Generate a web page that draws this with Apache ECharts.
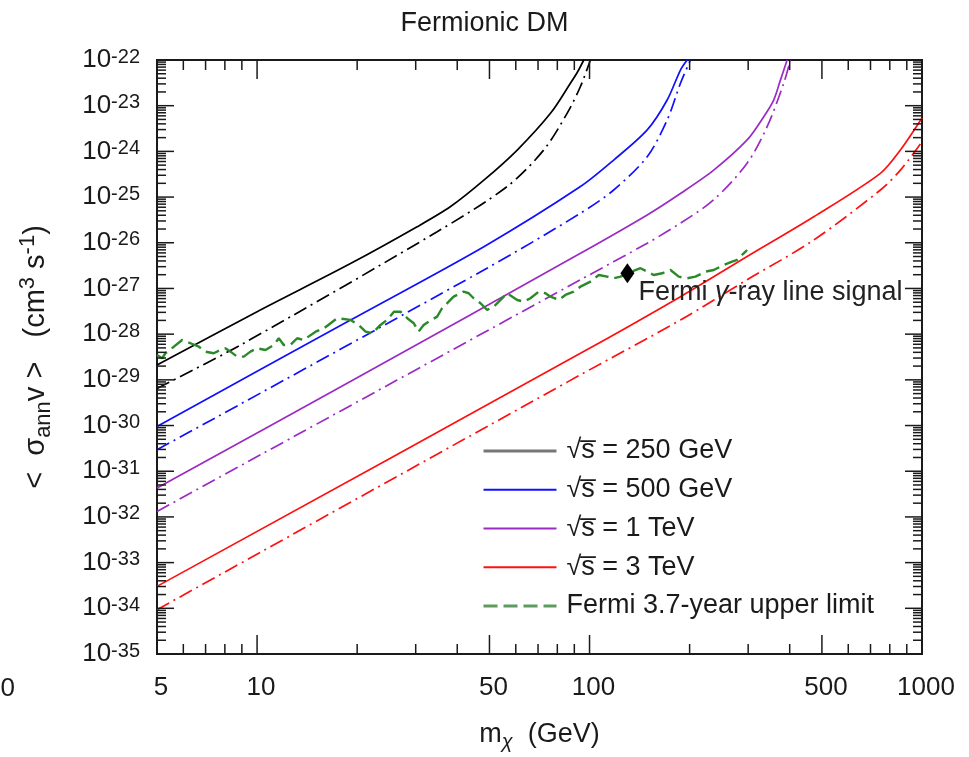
<!DOCTYPE html>
<html>
<head>
<meta charset="utf-8">
<title>Fermionic DM</title>
<script src="https://cdn.jsdelivr.net/npm/echarts@6/dist/echarts.min.js"></script>
<style>
  html, body { margin: 0; padding: 0; background: #fff; }
  #chart { width: 969px; height: 757px; }
</style>
</head>
<body>
<div id="chart"></div>
<script>
// ---- data: annihilation cross section sensitivity vs. DM mass ----
// each point: [m_chi in GeV, <sigma v> in cm^3 s^-1]
const energies = ['250 GeV', '500 GeV', '1 TeV', '3 TeV'];
const colors = ['#000000', '#1010ff', '#9b2bc4', '#ff1010'];

const solid250 = [[5, 2.1e-29], [10, 3.1e-28], [19.1, 3.5e-27], [30.3, 2.24e-26], [38.2, 6.2e-26],
  [48.1, 2.34e-25], [60.6, 1.07e-24], [76.3, 6.8e-24], [87.6, 3.1e-23], [92.0, 5.46e-23], [96.1, 1e-22]];
const dashdot250 = [[5, 6.5e-30], [8.9, 5.75e-29], [34.8, 1.74e-26], [56.5, 1.7e-25], [72.8, 1.07e-24],
  [85.6, 6.8e-24], [93.9, 2.63e-23], [100.6, 1e-22]];

const solid500 = [[5, 9.55e-31], [19.1, 2.04e-28], [48.1, 8.22e-27], [93.9, 1.7e-25], [118.2, 6.46e-25],
  [149.1, 2.95e-24], [171.2, 1.33e-23], [187.7, 6.03e-23], [196.6, 1e-22]];
const dashdot500 = [[5, 2.95e-31], [48.1, 2.54e-27], [93.9, 4.42e-26], [118.2, 1.43e-25], [149.1, 7.66e-25],
  [171.2, 4.86e-24], [187.7, 3.09e-23], [201.1, 1e-22]];

const solid1000 = [[5, 4.27e-32], [19.5, 1e-29], [93.9, 5.89e-27], [149.1, 4.07e-26], [187.7, 1.2e-25],
  [236.3, 3.89e-25], [297.8, 1.78e-24], [334.2, 5.75e-24], [358, 1.33e-23], [375.1, 3.63e-23], [392.9, 1e-22]];
const dashdot1000 = [[5, 1.32e-32], [93.9, 1.55e-27], [149.1, 9.77e-27], [187.7, 2.69e-26], [236.3, 8.71e-26],
  [297.8, 5.5e-25], [342.1, 3.47e-24], [383.8, 3.09e-23], [402, 1e-22]];

const solid3000 = [[5, 3.02e-34], [93.9, 3.8e-29], [187.7, 6.61e-28], [297.8, 5.01e-27], [472.5, 3.72e-26],
  [749.7, 3.31e-25], [861, 1.07e-24], [1000, 5.37e-24]];
const dashdot3000 = [[5, 9.33e-35], [93.9, 1.29e-29], [187.7, 2.04e-28], [297.8, 1.55e-27], [472.5, 1.15e-26],
  [749.7, 1.43e-25], [861, 3.89e-25], [1000, 1.62e-24]];

// Fermi-LAT 3.7-year gamma-ray line upper limit
const fermiLimit = [
  [5, 3.5e-29], [5.18, 2.97e-29], [5.3, 3.82e-29], [5.62, 5.32e-29], [5.95, 7.46e-29], [6.31, 6.32e-29],
  [6.68, 5.32e-29], [6.99, 4.14e-29], [7.41, 3.82e-29], [7.76, 4.51e-29], [8.03, 4.91e-29], [8.32, 4.14e-29],
  [8.71, 3.22e-29], [9.12, 3.22e-29], [9.55, 4.14e-29], [10.0, 4.91e-29], [10.6, 4.51e-29], [11.23, 5.81e-29],
  [11.62, 8.13e-29], [12.03, 5.81e-29], [12.6, 5.81e-29], [13.2, 8.13e-29], [13.8, 7.46e-29], [15.0, 1.135e-28],
  [15.9, 1.346e-28], [17.4, 2.23e-28], [19.1, 2.05e-28], [20.2, 1.59e-28], [21.2, 1.135e-28], [22.2, 1.047e-28],
  [23.5, 1.59e-28], [24.6, 2.05e-28], [25.8, 3.1e-28], [27.0, 3.1e-28], [28.3, 2.23e-28], [29.6, 1.73e-28],
  [30.6, 1.135e-28], [31.7, 1.59e-28], [32.8, 1.88e-28], [34.8, 2.42e-28], [36.0, 3.69e-28], [37.7, 5.14e-28],
  [39.0, 6.62e-28], [41.8, 8.51e-28], [43.3, 7.85e-28], [44.8, 6.11e-28], [47.0, 4.74e-28], [49.2, 3.39e-28],
  [51.5, 4.0e-28], [54.0, 5.6e-28], [56.5, 7.85e-28], [60.6, 5.6e-28], [63.4, 5.14e-28], [66.4, 6.11e-28],
  [70.3, 8.51e-28], [73.7, 7.85e-28], [76.3, 6.62e-28], [80.8, 5.6e-28], [84.6, 7.21e-28], [89.6, 8.51e-28],
  [93.9, 1.094e-27], [100.6, 1.41e-27], [106.6, 1.97e-27], [113.0, 1.81e-27], [118.2, 1.67e-27], [123.9, 1.81e-27],
  [132.7, 2.3e-27], [142.3, 2.77e-27], [149.1, 2.33e-27], [156.0, 1.97e-27], [165.4, 2.15e-27], [175.2, 2.54e-27],
  [185.5, 1.81e-27], [196.6, 1.67e-27], [208.2, 1.81e-27], [223.1, 2.33e-27], [236.3, 2.54e-27], [253.3, 3.27e-27],
  [268.4, 3.86e-27], [277.9, 4.21e-27], [290.9, 5.89e-27], [297.8, 6.95e-27]
];

// 130 GeV line signal
const lineSignal = [[130, 2.15e-27]];

// axis ranges, ticks and labels
const xRange = [5, 1000];
const yRange = [1e-35, 1e-22];
const xTickLabels = [5, 10, 50, 100, 500, 1000];
const xMajorTicks = [5, 10, 50, 100, 500, 1000];
const yDecades = [-35, -34, -33, -32, -31, -30, -29, -28, -27, -26, -25, -24, -23, -22];

// ---- derived tick positions ----
const xMinorTicks = [];
[1, 10, 100].forEach(function (d) {
  for (let k = 2; k <= 9; k++) {
    const v = k * d;
    if (v > 5 && v < 1000 && v !== 50 && v !== 500) xMinorTicks.push(v);
  }
});
const yMajorTicks = yDecades.map(function (e) { return Math.pow(10, e); });
const yMinorTicks = [];
yDecades.slice(0, -1).forEach(function (e) {
  for (let k = 2; k <= 9; k++) yMinorTicks.push(k * Math.pow(10, e));
});

const FONT = '"Liberation Sans", Arial, Helvetica, sans-serif';
const INK = '#1a1a1a';
const legendNames = energies.map(function (e) { return '\u221As\u0305 = ' + e; });
const fermiName = 'Fermi 3.7-year upper limit';

// tick rows: [x, y, side(0 = x ticks, 1 = y ticks), length]
const tickRows = []
  .concat(xMajorTicks.map(function (v) { return [v, yRange[0], 0, 19]; }))
  .concat(xMinorTicks.map(function (v) { return [v, yRange[0], 0, 10]; }))
  .concat(yMajorTicks.map(function (v) { return [xRange[0], v, 1, 17]; }))
  .concat(yMinorTicks.map(function (v) { return [xRange[0], v, 1, 9]; }));

function renderTick(params, api) {
  const side = api.value(2);
  const len = api.value(3);
  const style = { stroke: INK, lineWidth: 1.5 };
  if (side === 0) {
    const m = api.value(0);
    const b = api.coord([m, yRange[0]]);
    const t = api.coord([m, yRange[1]]);
    return { type: 'group', children: [
      { type: 'line', shape: { x1: b[0], y1: b[1], x2: b[0], y2: b[1] - len }, style: style },
      { type: 'line', shape: { x1: t[0], y1: t[1], x2: t[0], y2: t[1] + len }, style: style }
    ] };
  }
  const v = api.value(1);
  const l = api.coord([xRange[0], v]);
  const r = api.coord([xRange[1], v]);
  return { type: 'group', children: [
    { type: 'line', shape: { x1: l[0], y1: l[1], x2: l[0] + len, y2: l[1] }, style: style },
    { type: 'line', shape: { x1: r[0], y1: r[1], x2: r[0] - len, y2: r[1] }, style: style }
  ] };
}

// y tick labels: 10^n
const yLabelRows = yMajorTicks.map(function (v) { return [xRange[0], v]; });
function renderYLabel(params, api) {
  const v = api.value(1);
  const p = api.coord([xRange[0], v]);
  const exp = Math.round(Math.log10(v));
  return {
    type: 'text', x: p[0] - 17, y: p[1],
    style: {
      text: '{b|10}{s|' + exp + '}',
      align: 'right', verticalAlign: 'middle',
      rich: {
        b: { fontSize: 26, fontFamily: FONT, fill: INK, lineHeight: 26, verticalAlign: 'bottom' },
        s: { fontSize: 20, fontFamily: FONT, fill: INK, lineHeight: 20, verticalAlign: 'top', padding: [0, 0, 12, 0] }
      }
    }
  };
}

const dashDot = [14, 5, 2, 5];
const solidSets = [solid250, solid500, solid1000, solid3000];
const dashSets = [dashdot250, dashdot500, dashdot1000, dashdot3000];

const series = [];
solidSets.forEach(function (d, i) {
  series.push({
    name: legendNames[i], type: 'line', data: d,
    showSymbol: false, symbol: 'none', smooth: 0.3,
    lineStyle: { color: colors[i], width: 1.7 }, itemStyle: { color: colors[i] }, z: 3
  });
});
dashSets.forEach(function (d, i) {
  series.push({
    name: 'dashdot ' + energies[i], type: 'line', data: d,
    showSymbol: false, symbol: 'none', smooth: 0.3,
    lineStyle: { color: colors[i], width: 1.7, type: dashDot }, itemStyle: { color: colors[i] }, z: 3
  });
});
series.push({
  name: fermiName, type: 'line', data: fermiLimit,
  showSymbol: false, symbol: 'none',
  lineStyle: { color: '#2a8a2a', width: 2.4, type: [14, 6] }, itemStyle: { color: '#2a8a2a' }, z: 4
});
series.push({
  name: 'line signal', type: 'scatter', data: lineSignal,
  symbol: 'diamond', symbolSize: [14, 20], itemStyle: { color: '#000', opacity: 1 }, z: 6,
  label: {
    show: true, position: 'right', distance: 4, offset: [0, 19], color: '#222', opacity: 1,
    formatter: '{t|Fermi }{g|\u03B3}{t|-ray line signal}',
    rich: {
      t: { fontSize: 27, fontFamily: FONT, color: '#222' },
      g: { fontSize: 27, fontFamily: FONT, color: '#222', fontStyle: 'italic' }
    }
  }
});
series.push({
  name: 'ticks', type: 'custom', data: tickRows, renderItem: renderTick,
  silent: true, clip: false, z: 10
});
series.push({
  name: 'y labels', type: 'custom', data: yLabelRows, renderItem: renderYLabel,
  silent: true, clip: false, z: 10
});

const legendData = legendNames.map(function (n, i) {
  const item = { name: n };
  if (i === 0) item.lineStyle = { color: '#777777', width: 3 };
  return item;
});
legendData.push({ name: fermiName, lineStyle: { color: '#5f9a5f', width: 3 } });

const chart = echarts.init(document.getElementById('chart'), null, { renderer: 'canvas' });
chart.setOption({
  animation: false,
  backgroundColor: '#ffffff',
  textStyle: { fontFamily: FONT },
  title: {
    text: 'Fermionic DM', left: 'center', top: 5,
    textStyle: { fontSize: 27, fontWeight: 'normal', fontFamily: FONT, color: INK }
  },
  grid: {
    left: 157, right: 47, top: 60, bottom: 103,
    show: true, borderColor: INK, borderWidth: 2, backgroundColor: 'transparent',
    containLabel: false, outerBoundsMode: 'none'
  },
  legend: {
    orient: 'vertical', left: 477, top: 431,
    itemWidth: 73, itemHeight: 30, itemGap: 8.75,
    itemStyle: { opacity: 0 },
    textStyle: { fontSize: 27, fontFamily: FONT, color: INK, lineHeight: 30, padding: [0, 0, 0, 5] },
    data: legendData, selectedMode: false
  },
  xAxis: {
    type: 'log', logBase: 10, min: xRange[0], max: xRange[1],
    axisLine: { show: false }, splitLine: { show: false }, axisTick: { show: false },
    axisLabel: {
      show: true, customValues: xTickLabels, margin: 21, padding: [0, 0, 0, 8],
      fontSize: 26, fontFamily: FONT, color: INK,
      formatter: function (v) { return String(Math.round(v)); }
    },
    name: '{t|m}{sub|\u03C7}{t|  (GeV)}',
    nameLocation: 'middle', nameGap: 64,
    nameTextStyle: {
      color: INK, fontFamily: FONT,
      rich: {
        t: { fontSize: 27, fontFamily: FONT, color: INK },
        sub: { fontSize: 20, fontFamily: FONT, color: INK, fontStyle: 'italic', verticalAlign: 'bottom', padding: [14, 0, 0, 0] }
      }
    }
  },
  yAxis: {
    type: 'log', logBase: 10, min: yRange[0], max: yRange[1],
    axisLine: { show: false }, splitLine: { show: false }, axisTick: { show: false },
    axisLabel: { show: false },
    name: '{t|<  \u03C3}{sub|ann}{t|v >   (cm}{sup|3}{t| s}{sup|-1}{t|)}',
    nameLocation: 'middle', nameRotate: 90, nameGap: 102,
    nameTextStyle: {
      color: INK, fontFamily: FONT,
      rich: {
        t: { fontSize: 29, fontFamily: FONT, color: INK },
        sub: { fontSize: 22, fontFamily: FONT, color: INK, verticalAlign: 'bottom', padding: [14, 0, 0, 0] },
        sup: { fontSize: 22, fontFamily: FONT, color: INK, verticalAlign: 'top', padding: [0, 0, 16, 0] }
      }
    }
  },
  graphic: [{
    type: 'text', left: -14, top: 676,
    style: { text: '00', fontSize: 26, fontFamily: FONT, fill: INK }
  }],
  series: series
});
</script>
</body>
</html>
